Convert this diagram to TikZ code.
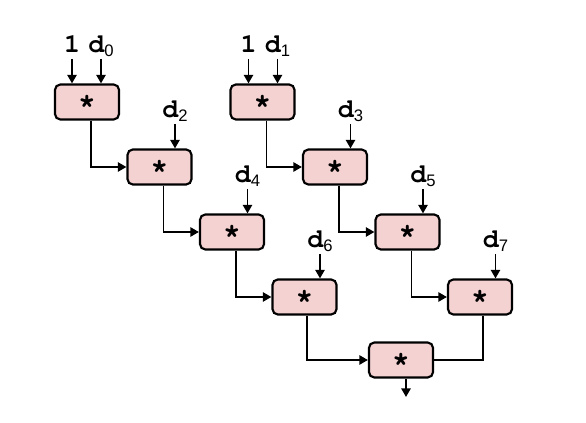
\documentclass[tikz,border=0pt]{standalone}
\usepackage[T1]{fontenc}
\usepackage{fontspec}
\setmainfont{Liberation Sans}
\usetikzlibrary{arrows.meta}
\definecolor{mulpink}{RGB}{245,210,210}
% bold Courier for operands and the operator
\newcommand{\courb}{\fontencoding{T1}\fontfamily{pcr}\fontseries{b}\selectfont}
% operand label: bold Courier d with a sans subscript
\newcommand{\dop}[1]{d\raisebox{-3pt}{\fontencoding{TU}\rmfamily\mdseries\fontsize{12.5}{13}\selectfont #1}}

\begin{document}
\begin{tikzpicture}[x=0.75pt,y=-0.75pt,
    mul/.style={draw,fill=mulpink,line width=1.6pt,rounded corners=4pt,
      minimum width=48pt,minimum height=26.25pt,inner sep=0pt,
      font=\fontsize{22}{22}\courb},
    lab/.style={anchor=base,inner sep=0pt,
      font=\fontsize{20}{20}\courb},
    >={Triangle[length=6.5pt,width=7pt]},line width=1.4pt]
  \useasboundingbox (0,0) rectangle (586,423);
  % multipliers
  \node[mul] (m1) at (87,102) {*};
  \node[mul] (m2) at (159.5,167) {*};
  \node[mul] (m3) at (232,232) {*};
  \node[mul] (m4) at (304.5,297) {*};
  \node[mul] (n1) at (262.5,102) {*};
  \node[mul] (n2) at (335,167) {*};
  \node[mul] (n3) at (407.5,232) {*};
  \node[mul] (n4) at (480,297) {*};
  \node[mul] (f) at (401,360) {*};
  % operands
  \node[lab] (a1) at (72,53) {1};
  \node[lab] (d0) at (101,53) {\dop{0}};
  \node[lab] (a2) at (248.5,53) {1};
  \node[lab] (d1) at (277.5,53) {\dop{1}};
  \node[lab] (d2) at (175,118) {\dop{2}};
  \node[lab] (d4) at (247.5,183) {\dop{4}};
  \node[lab] (d6) at (320,248) {\dop{6}};
  \node[lab] (d3) at (350.5,118) {\dop{3}};
  \node[lab] (d5) at (423,183) {\dop{5}};
  \node[lab] (d7) at (495.5,248) {\dop{7}};
  \coordinate (out) at (406,397);
  \begin{scope}[->]
    \draw ([yshift=-4.5pt]a1.base) -- (a1.base |- m1.north);
    \draw ([yshift=-4.5pt]d0.base) -- (d0.base |- m1.north);
    \draw ([yshift=-4.5pt]a2.base) -- (a2.base |- n1.north);
    \draw ([yshift=-4.5pt]d1.base) -- (d1.base |- n1.north);
    \draw ([yshift=-4.5pt]d2.base) -- (d2.base |- m2.north);
    \draw ([yshift=-4.5pt]d4.base) -- (d4.base |- m3.north);
    \draw ([yshift=-4.5pt]d6.base) -- (d6.base |- m4.north);
    \draw ([yshift=-4.5pt]d3.base) -- (d3.base |- n2.north);
    \draw ([yshift=-4.5pt]d5.base) -- (d5.base |- n3.north);
    \draw ([yshift=-4.5pt]d7.base) -- (d7.base |- n4.north);
    \draw ([xshift=3pt]m1.south) |- (m2.west);
    \draw ([xshift=3pt]m2.south) |- (m3.west);
    \draw ([xshift=3pt]m3.south) |- (m4.west);
    \draw ([xshift=3pt]n1.south) |- (n2.west);
    \draw ([xshift=3pt]n2.south) |- (n3.west);
    \draw ([xshift=3pt]n3.south) |- (n4.west);
    \draw ([xshift=2pt]m4.south) |- (f.west);
    \draw (f.south -| out) -- (out);
  \end{scope}
  \draw ([xshift=2pt]n4.south) |- (f.east);
\end{tikzpicture}
\end{document}
